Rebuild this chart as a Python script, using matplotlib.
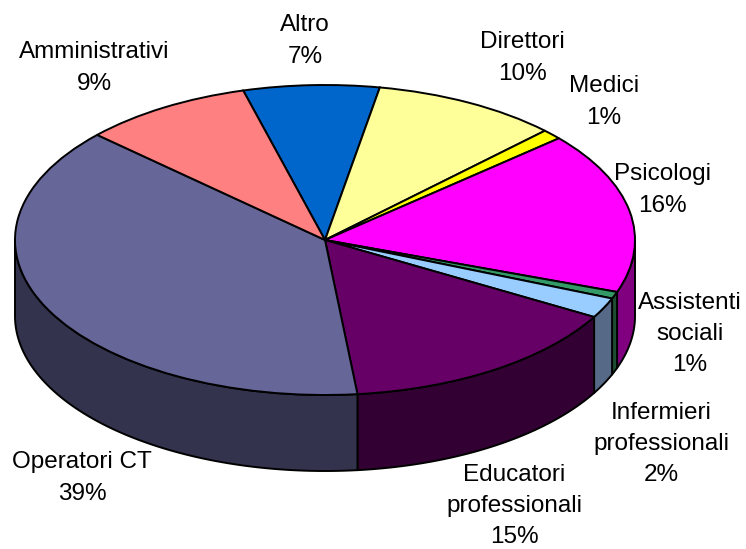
import numpy as np
import matplotlib
matplotlib.use('Agg')
import matplotlib.pyplot as plt

plt.rcParams['font.family'] = ['Liberation Sans', 'DejaVu Sans']

# Slices clockwise from Altro, shares
labels = ['Altro\n7%', 'Direttori\n10%', 'Medici\n1%', 'Psicologi\n16%', 'Assistenti\nsociali\n1%',
          'Infermieri\nprofessionali\n2%', 'Educatori\nprofessionali\n15%', 'Operatori CT\n39%',
          'Amministrativi\n9%']
values = [7.08, 9.72, 1.06, 16.83, 0.72, 2.11, 15.06, 38.53, 8.89]
top_colors = ['#0066CC', '#FFFF99', '#FFFF00', '#FF00FF', '#339966', '#99CCFF', '#660066', '#666699', '#FF8080']
wall_colors = ['#003366', '#80804D', '#808000', '#800080', '#1F4D33', '#566A88', '#330033', '#33334D', '#804040']

# Label centres in pixels, from the top left of the image
label_x = [305, 522, 604, 662, 690, 661, 514, 82, 94]
label_y = [41, 58, 102, 190, 334, 444, 506, 478, 68]

W, H = 746, 549
CX, CY = 325, 240
RX, RY = 310, 155
DEPTH = 76 / RY
START = 105.3

fig = plt.figure(figsize=(W / 100, H / 100), dpi=100)
ax = fig.add_axes([0, 0, 1, 1])

# Side walls first, only the part facing the viewer (math angles -180..0)
edges = START - np.cumsum([0] + values) / sum(values) * 360
for i in range(len(values)):
    a1 = max(edges[i + 1], -180)
    a2 = min(edges[i], 0)
    if a2 <= a1:
        continue
    t = np.radians(np.linspace(a1, a2, 80))
    xs = np.r_[np.cos(t), np.cos(t[::-1])]
    ys = np.r_[np.sin(t), np.sin(t[::-1]) - DEPTH]
    ax.fill(xs, ys, facecolor=wall_colors[i], edgecolor='black', linewidth=1.4, joinstyle='round')

ax.pie(values, colors=top_colors, startangle=START, counterclock=False, radius=1,
       wedgeprops={'edgecolor': 'black', 'linewidth': 1.4})

# pie forces equal aspect, flatten it into the tilted ellipse
ax.set_aspect('auto')
ax.set_xlim(-CX / RX, (W - CX) / RX)
ax.set_ylim((CY - H) / RY, CY / RY)

for lab, x, y in zip(labels, label_x, label_y):
    fig.text(x / W, 1 - y / H, lab, ha='center', va='center', fontsize=17.5, linespacing=1.53, color='black')

fig.savefig('out.png', dpi=100)
